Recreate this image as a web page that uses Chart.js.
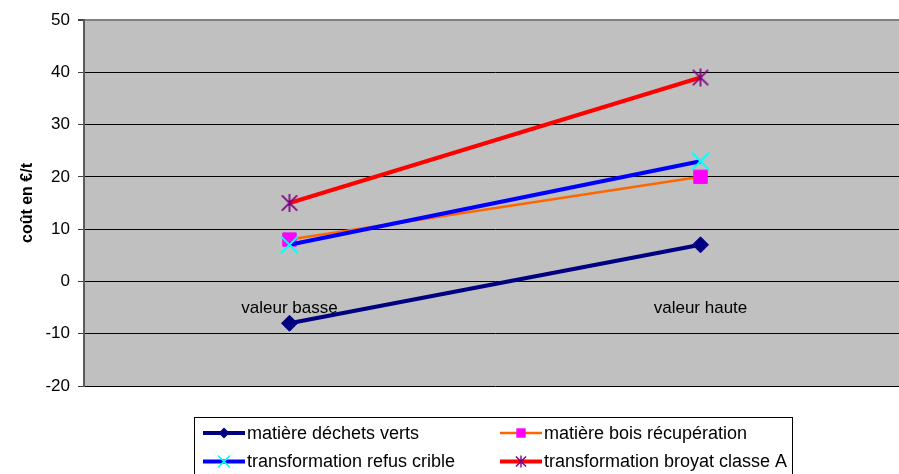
<!DOCTYPE html>
<html>
<head>
<meta charset="utf-8">
<script src="https://cdn.jsdelivr.net/npm/chart.js@4/dist/chart.umd.min.js"></script>
<style>
  html, body { margin: 0; padding: 0; overflow: hidden; background: #fff; }
  canvas { display: block; }
</style>
</head>
<body>
<canvas id="c" width="920" height="474"></canvas>
<script>
// Coût de traitement (€/t), valeur basse / valeur haute
const categories = ['valeur basse', 'valeur haute'];
const dechetsVerts = [-8, 7];
const boisRecuperation = [8, 20];
const refusCrible = [7, 23];
const broyatClasseA = [15, 39];
const seriesNames = [
  'matière déchets verts',
  'matière bois récupération',
  'transformation refus crible',
  'transformation broyat classe A'
];
const yTicks = [-20, -10, 0, 10, 20, 30, 40, 50];

const FONT = '"Liberation Sans", Arial, sans-serif';

// Asterisk marker: vertical stroke plus two diagonals
function starMarker(size, color, lw) {
  const c = document.createElement('canvas');
  c.width = size; c.height = size;
  const g = c.getContext('2d');
  g.strokeStyle = color; g.lineWidth = lw;
  const h = size / 2, r = h - 1;
  g.beginPath();
  g.moveTo(h, h - r); g.lineTo(h, h + r);
  g.moveTo(h - r * 0.85, h - r * 0.85); g.lineTo(h + r * 0.85, h + r * 0.85);
  g.moveTo(h + r * 0.85, h - r * 0.85); g.lineTo(h - r * 0.85, h + r * 0.85);
  g.stroke();
  return c;
}

const datasets = [
  {
    label: seriesNames[0], data: dechetsVerts,
    borderColor: '#000080', borderWidth: 4,
    pointStyle: 'rectRot', pointRadius: 8, pointHoverRadius: 8,
    pointBackgroundColor: '#000080', pointBorderColor: '#000080', pointBorderWidth: 1,
    legendMarker: { style: 'diamond', size: 5.5, fill: '#000080', stroke: '#000080' },
    order: 3
  },
  {
    label: seriesNames[1], data: boisRecuperation,
    borderColor: '#FF6600', borderWidth: 2.5,
    pointStyle: 'rect', pointRadius: 9.5, pointHoverRadius: 9.5,
    pointBackgroundColor: '#FF00FF', pointBorderColor: '#FF00FF', pointBorderWidth: 1,
    legendMarker: { style: 'square', size: 4.7, fill: '#FF00FF', stroke: '#FF00FF' },
    order: 2
  },
  {
    label: seriesNames[2], data: refusCrible,
    borderColor: '#0000FF', borderWidth: 4,
    pointStyle: 'crossRot', pointRadius: 12, pointHoverRadius: 12,
    pointBackgroundColor: '#00FFFF', pointBorderColor: '#00FFFF', pointBorderWidth: 2,
    legendMarker: { style: 'x', size: 6, fill: null, stroke: '#00FFFF' },
    order: 1
  },
  {
    label: seriesNames[3], data: broyatClasseA,
    borderColor: '#FF0000', borderWidth: 4,
    pointStyle: starMarker(20, '#800080', 1.7), pointRadius: 10, pointHoverRadius: 10,
    pointBackgroundColor: '#800080', pointBorderColor: '#800080',
    legendMarker: { style: 'star', size: 6, fill: null, stroke: '#800080' },
    order: 0
  }
];

// Grey plotting area
const plotBackground = {
  id: 'plotBackground',
  beforeDraw(chart) {
    const { ctx, chartArea: a } = chart;
    ctx.save();
    ctx.fillStyle = '#C0C0C0';
    ctx.fillRect(a.left, a.top, a.right - a.left, a.bottom - a.top);
    ctx.restore();
  }
};

function drawLegendMarker(ctx, m, x, y) {
  ctx.save();
  ctx.fillStyle = m.fill || 'transparent';
  ctx.strokeStyle = m.stroke;
  const s = m.size;
  ctx.beginPath();
  if (m.style === 'diamond') {
    ctx.moveTo(x, y - s); ctx.lineTo(x + s, y); ctx.lineTo(x, y + s); ctx.lineTo(x - s, y);
    ctx.closePath(); ctx.fill();
  } else if (m.style === 'square') {
    ctx.rect(x - s, y - s, 2 * s, 2 * s); ctx.fill();
  } else if (m.style === 'x') {
    ctx.lineWidth = 1.6;
    ctx.moveTo(x - s, y - s); ctx.lineTo(x + s, y + s);
    ctx.moveTo(x + s, y - s); ctx.lineTo(x - s, y + s);
    ctx.stroke();
  } else if (m.style === 'star') {
    ctx.lineWidth = 1.4;
    ctx.moveTo(x, y - s); ctx.lineTo(x, y + s);
    ctx.moveTo(x - s * 0.85, y - s * 0.85); ctx.lineTo(x + s * 0.85, y + s * 0.85);
    ctx.moveTo(x + s * 0.85, y - s * 0.85); ctx.lineTo(x - s * 0.85, y + s * 0.85);
    ctx.stroke();
  }
  ctx.restore();
}

// Framed two-column legend below the plot
const boxLegend = {
  id: 'boxLegend',
  afterDraw(chart) {
    const ctx = chart.ctx;
    const box = { left: 194.5, top: 417.5, width: 598, height: 70 };
    const cols = [203, 500];
    const rows = [433, 461.5];
    const sample = 42;
    ctx.save();
    ctx.fillStyle = '#fff';
    ctx.fillRect(box.left, box.top, box.width, box.height);
    ctx.strokeStyle = '#000';
    ctx.lineWidth = 1;
    ctx.strokeRect(box.left, box.top, box.width, box.height);
    chart.data.datasets.forEach((ds, i) => {
      const x0 = cols[i % 2];
      const y = rows[Math.floor(i / 2)];
      ctx.strokeStyle = ds.borderColor;
      ctx.lineWidth = ds.borderWidth;
      ctx.beginPath();
      ctx.moveTo(x0, y);
      ctx.lineTo(x0 + sample, y);
      ctx.stroke();
      drawLegendMarker(ctx, ds.legendMarker, x0 + sample / 2, y);
      ctx.fillStyle = '#000';
      ctx.font = '18px ' + FONT;
      ctx.textAlign = 'left';
      ctx.textBaseline = 'middle';
      ctx.fillText(ds.label, x0 + sample + 2, y + 1);
    });
    ctx.restore();
  }
};

new Chart(document.getElementById('c'), {
  type: 'line',
  data: { labels: categories, datasets },
  plugins: [plotBackground, boxLegend],
  options: {
    responsive: false,
    animation: false,
    events: [],
    layout: { padding: { left: 0, top: 20, right: 10, bottom: 88 } },
    elements: { line: { tension: 0 } },
    plugins: { legend: { display: false }, tooltip: { enabled: false } },
    scales: {
      x: {
        type: 'category',
        position: { y: 0 },
        offset: true,
        grid: { display: false, drawTicks: false },
        border: { display: false },
        ticks: { color: '#000', font: { family: FONT, size: 17 }, padding: 17, maxRotation: 0 }
      },
      y: {
        min: yTicks[0],
        max: yTicks[yTicks.length - 1],
        ticks: {
          stepSize: yTicks[1] - yTicks[0],
          color: '#000',
          font: { family: FONT, size: 17 },
          padding: 8
        },
        grid: {
          color: c => (c.tick && c.tick.value === yTicks[yTicks.length - 1]) ? '#808080' : '#000',
          lineWidth: c => (c.tick && c.tick.value === yTicks[yTicks.length - 1]) ? 2 : 1,
          tickColor: '#404040',
          tickLength: 6
        },
        border: { color: '#5a5a5a', width: 2 },
        title: {
          display: true,
          text: 'coût en €/t',
          color: '#000',
          font: { family: FONT, size: 16, weight: 'bold' },
          padding: { top: 18, bottom: 0 }
        },
        afterFit(scale) { scale.width = 84; }
      }
    }
  }
});
</script>
</body>
</html>
